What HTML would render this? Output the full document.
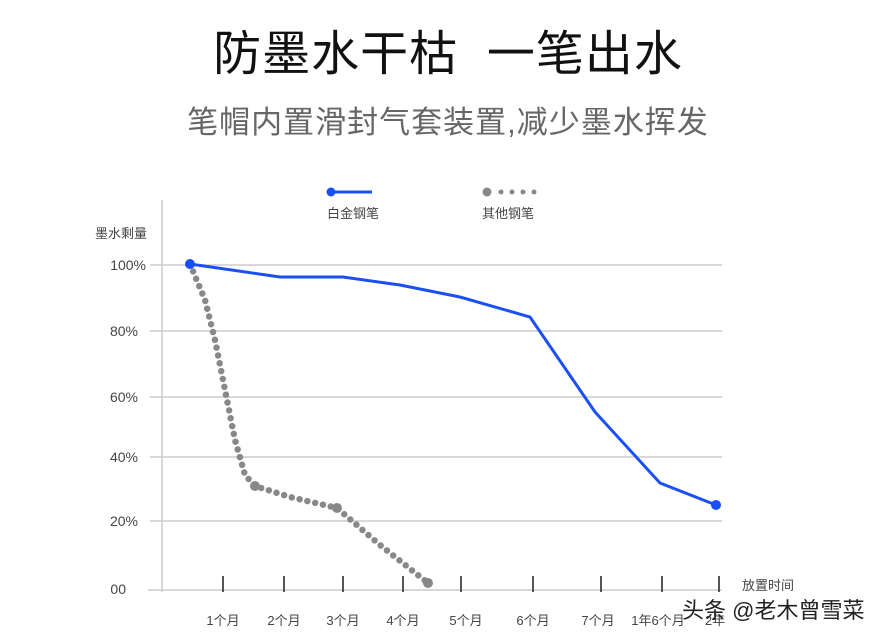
<!DOCTYPE html>
<html><head><meta charset="utf-8"><style>
body{margin:0;width:880px;height:640px;background:#fff;overflow:hidden;font-family:"Liberation Sans","Noto Sans CJK SC",sans-serif}
.t{position:absolute;left:0;width:896px;text-align:center}
</style></head><body>
<div class="t" style="top:14px;font-size:48px;color:#111;letter-spacing:1px">防墨水干枯&nbsp;&nbsp;一笔出水</div>
<div class="t" style="top:97px;font-size:31px;color:#666;letter-spacing:1px">笔帽内置滑封气套装置,减少墨水挥发</div>
<svg width="880" height="640" style="position:absolute;left:0;top:0" font-family="Liberation Sans, Noto Sans CJK SC, sans-serif">
<g stroke="#ccc" stroke-width="1.5">
<line x1="150" y1="265" x2="722" y2="265"/><line x1="150" y1="331" x2="722" y2="331"/>
<line x1="150" y1="397" x2="722" y2="397"/><line x1="150" y1="457" x2="722" y2="457"/>
<line x1="150" y1="521" x2="722" y2="521"/><line x1="148" y1="590" x2="722" y2="590"/>
<line x1="162" y1="200" x2="162" y2="592"/>
</g>
<g stroke="#555" stroke-width="2">
<line x1="223" y1="576" x2="223" y2="592"/><line x1="284" y1="576" x2="284" y2="592"/>
<line x1="343" y1="576" x2="343" y2="592"/><line x1="403" y1="576" x2="403" y2="592"/>
<line x1="461" y1="576" x2="461" y2="592"/><line x1="533" y1="576" x2="533" y2="592"/>
<line x1="601" y1="576" x2="601" y2="592"/><line x1="662" y1="576" x2="662" y2="592"/>
<line x1="719" y1="576" x2="719" y2="592"/>
</g>
<g font-size="14" fill="#444" text-anchor="end">
<text x="146" y="270">100%</text><text x="138" y="336">80%</text><text x="138" y="402">60%</text>
<text x="138" y="462">40%</text><text x="138" y="526">20%</text><text x="126" y="594">00</text>
</g>
<text x="95" y="238" font-size="13" fill="#444">墨水剩量</text>
<text x="742" y="590" font-size="13" fill="#444">放置时间</text>
<g font-size="13" fill="#444" text-anchor="middle">
<text x="223" y="625">1个月</text><text x="284" y="625">2个月</text><text x="343" y="625">3个月</text>
<text x="403" y="625">4个月</text><text x="466" y="625">5个月</text><text x="533" y="625">6个月</text>
<text x="598" y="625">7个月</text><text x="658" y="625">1年6个月</text><text x="715" y="625">2年</text>
</g>
<line x1="331" y1="192" x2="372" y2="192" stroke="#1a4ff5" stroke-width="3"/>
<circle cx="331" cy="192" r="4.5" fill="#1a4ff5"/>
<circle cx="487" cy="192" r="4.5" fill="#888"/>
<g fill="#888"><circle cx="501" cy="192" r="2.5"/><circle cx="512" cy="192" r="2.5"/><circle cx="523" cy="192" r="2.5"/><circle cx="534" cy="192" r="2.5"/></g>
<text x="327" y="218" font-size="13" fill="#444">白金钢笔</text>
<text x="482" y="218" font-size="13" fill="#444">其他钢笔</text>
<polyline fill="none" stroke="#888" stroke-width="6.5" stroke-linecap="round" stroke-dasharray="0 8" points="190,264 205,300 215,340 225,390 235,440 245,475 255,486 290,497 337,508 380,545 428,583"/>
<circle cx="255" cy="486" r="5" fill="#888"/><circle cx="337" cy="508" r="5" fill="#888"/><circle cx="428" cy="583" r="5" fill="#888"/>
<polyline fill="none" stroke="#1a4ff5" stroke-width="3" points="190,264 280,277 343,277 400,285 460,297 530,317 595,412 660,483 716,505"/>
<circle cx="190" cy="264" r="5" fill="#1a4ff5"/><circle cx="716" cy="505" r="5" fill="#1a4ff5"/>
<text x="682" y="618" font-size="22" fill="#222">头条 @老木曾雪菜</text>
</svg>
</body></html>
